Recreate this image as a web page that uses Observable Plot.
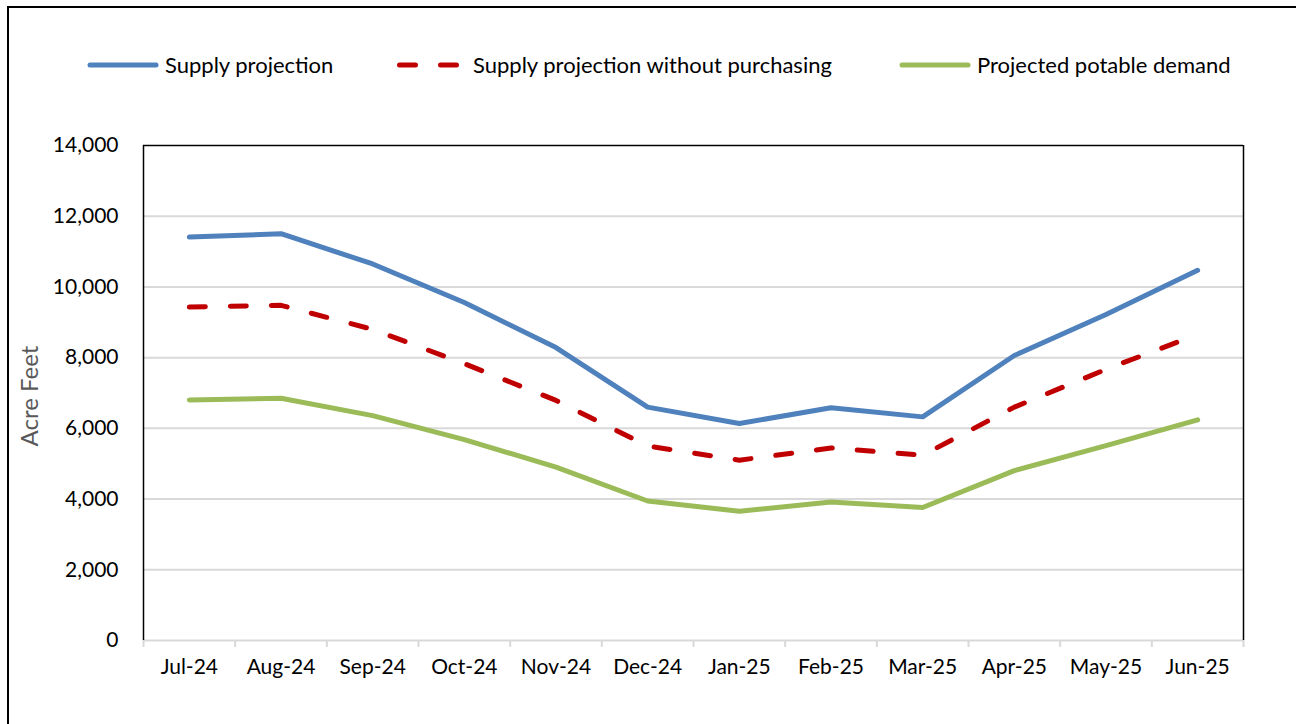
<!DOCTYPE html>
<html><head><meta charset="utf-8">
<script src="https://cdn.jsdelivr.net/npm/d3@7"></script>
<script src="https://cdn.jsdelivr.net/npm/@observablehq/plot@0.6"></script>
<style>
body{margin:0;width:1296px;height:724px;overflow:hidden;background:#fff;font-family:Lato,sans-serif;}
#wrap{position:relative;width:1296px;height:724px;overflow:hidden;}
#border{position:absolute;left:7px;top:6px;width:1400px;height:800px;border:2px solid #000;box-sizing:border-box;}
#chart{position:absolute;left:0;top:0;}
#legend{position:absolute;left:0;top:0;}
</style></head><body>
<div id="wrap"><div id="border"></div><div id="chart"></div><svg id="legend" width="1296" height="110"></svg></div>
<script>
const months = ["Jul-24","Aug-24","Sep-24","Oct-24","Nov-24","Dec-24","Jan-25","Feb-25","Mar-25","Apr-25","May-25","Jun-25"];
const supply = [11410, 11505, 10650, 9560, 8285, 6600, 6135, 6585, 6325, 8060, 9220, 10470];
const supplyNoPurchase = [9430, 9480, 8800, 7830, 6790, 5500, 5100, 5445, 5240, 6600, 7670, 8655];
const demand = [6805, 6850, 6360, 5680, 4905, 3945, 3655, 3915, 3763, 4805, 5512, 6240];
const seriesNames = ["Supply projection", "Supply projection without purchasing", "Projected potable demand"];
const seriesColors = ["#4f81bd", "#c00000", "#9bbb59"];
const seriesDash = [null, "16,25", null];
const yTicks = [0, 2000, 4000, 6000, 8000, 10000, 12000, 14000];
const yLabel = "Acre Feet";

const seriesValues = [supply, supplyNoPurchase, demand];
const xDomain = [-0.5, months.length - 0.5];

const lineMarks = seriesNames.map((name, k) => {
  const rows = months.map((m, i) => ({i, v: seriesValues[k][i]}));
  return Plot.line(rows, {
    x: "i", y: "v", stroke: seriesColors[k], strokeWidth: 5,
    strokeLinecap: "round", strokeLinejoin: "round",
    strokeDasharray: seriesDash[k] || undefined
  });
});

const plot = Plot.plot({
  width: 1296, height: 724,
  marginTop: 145, marginBottom: 84, marginLeft: 143, marginRight: 53,
  style: {fontFamily: "Lato, sans-serif", fontSize: "21px", color: "#000", background: "transparent"},
  x: {type: "linear", domain: xDomain},
  y: {domain: [yTicks[0], yTicks[yTicks.length - 1]]},
  marks: [
    Plot.gridY(yTicks.slice(1, -1), {stroke: "#d9d9d9", strokeOpacity: 1, strokeWidth: 2}),
    Plot.axisX(d3.range(xDomain[0], xDomain[1] + 0.01, 1), {tickSize: 7, tickFormat: () => "", stroke: "#d9d9d9", strokeWidth: 2, strokeOpacity: 1, label: null}),
    Plot.axisX(d3.range(months.length), {tickSize: 0, tickPadding: 19, tickFormat: i => months[i], label: null, fontSize: 21, fill: "#000"}),
    Plot.axisY(yTicks, {tickSize: 0, tickPadding: 25, tickFormat: d3.format(","), label: null, fontSize: 21, fill: "#000"}),
    Plot.ruleY([yTicks[0]], {stroke: "#d9d9d9", strokeWidth: 2}),
    Plot.ruleY([yTicks[yTicks.length - 1]], {stroke: "#000", strokeWidth: 1.5}),
    Plot.ruleX(xDomain, {y1: yTicks[0], y2: yTicks[yTicks.length - 1], stroke: "#000", strokeWidth: 1.5}),
    Plot.text([yLabel], {frameAnchor: "left", textAnchor: "middle", rotate: -90, dx: -113, dy: 3, fill: "#595959", fontSize: 24}),
    ...lineMarks
  ]
});
document.getElementById("chart").appendChild(plot);

// Legend
const legend = d3.select("#legend");
const legendLayout = [
  {x1: 90, x2: 156, tx: 165},
  {x1: 399.5, x2: 459.5, tx: 473},
  {x1: 902, x2: 968, tx: 977}
];
seriesNames.forEach((name, k) => {
  const L = legendLayout[k];
  legend.append("line")
    .attr("x1", L.x1).attr("x2", L.x2).attr("y1", 65).attr("y2", 65)
    .attr("stroke", seriesColors[k]).attr("stroke-width", 5)
    .attr("stroke-linecap", "round")
    .attr("stroke-dasharray", seriesDash[k]);
  legend.append("text")
    .attr("x", L.tx).attr("y", 65).attr("dy", "0.35em")
    .attr("font-family", "Lato, sans-serif").attr("font-size", 22)
    .attr("fill", "#000")
    .text(name);
});
</script>
</body></html>
